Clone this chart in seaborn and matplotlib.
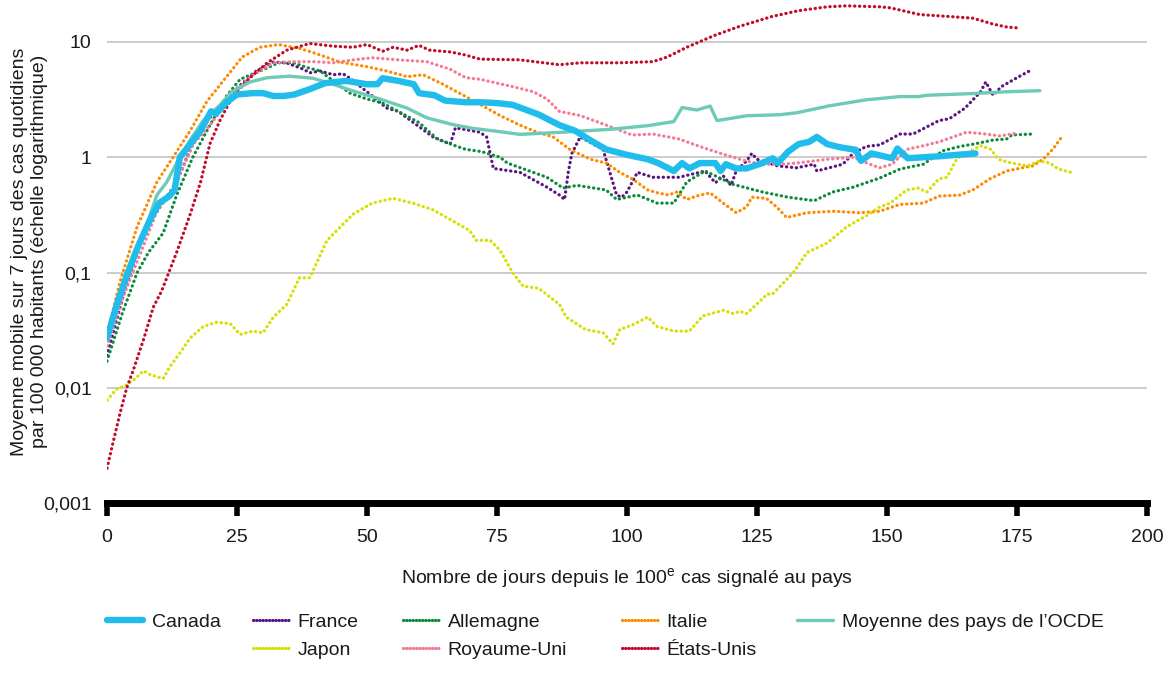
import numpy as np
import pandas as pd
import matplotlib
matplotlib.use("Agg")
import matplotlib.pyplot as plt
from matplotlib.lines import Line2D
from matplotlib.ticker import FixedLocator, NullLocator
import seaborn as sns

# ---------------- data ----------------
canada_x = [0, 2, 4, 6, 8, 9, 10, 12, 13, 14, 16, 18, 20, 21, 23, 25, 28, 30, 32, 34, 36, 39, 42, 46, 50, 52, 53, 56, 59, 60, 63, 65, 69, 72, 75, 78, 83, 87, 90, 93, 96, 100, 104, 106, 109, 110.6, 112, 114, 117, 118, 119, 121, 123, 126, 128, 129, 131, 133, 135, 136.5, 138.5, 141, 144, 145, 147, 151, 152, 154, 160, 167]
canada_y = [0.027, 0.055, 0.10, 0.17, 0.27, 0.33, 0.40, 0.46, 0.52, 1.0, 1.3, 1.7, 2.5, 2.4, 3.0, 3.5, 3.6, 3.6, 3.4, 3.4, 3.5, 3.9, 4.4, 4.6, 4.3, 4.3, 4.85, 4.6, 4.3, 3.6, 3.45, 3.1, 3.0, 3.0, 2.95, 2.85, 2.35, 1.9, 1.7, 1.4, 1.17, 1.05, 0.96, 0.89, 0.76, 0.89, 0.8, 0.89, 0.89, 0.76, 0.87, 0.8, 0.8, 0.89, 0.98, 0.89, 1.12, 1.3, 1.36, 1.5, 1.3, 1.22, 1.16, 0.93, 1.08, 0.98, 1.19, 0.98, 1.02, 1.08]

ocde_x = [0, 3, 6, 9.6, 11.5, 13.4, 16, 18.5, 21.7, 24, 27.5, 30.8, 35, 39.6, 43.5, 47, 52.5, 57.7, 61.5, 66.5, 70.4, 75, 79.4, 87.7, 97, 104, 109, 110.6, 113.4, 116, 117.3, 123, 129.4, 132.6, 139, 146, 152.5, 156, 157.7, 166.5, 173, 179.4]
ocde_y = [0.028, 0.07, 0.16, 0.47, 0.61, 0.89, 1.41, 2.08, 2.83, 3.7, 4.5, 4.9, 5.05, 4.85, 4.3, 3.8, 3.2, 2.67, 2.2, 1.92, 1.78, 1.68, 1.58, 1.65, 1.75, 1.88, 2.04, 2.7, 2.57, 2.78, 2.08, 2.29, 2.34, 2.43, 2.8, 3.15, 3.36, 3.36, 3.45, 3.57, 3.7, 3.78]

france_x = [0, 3, 7, 10, 13.4, 17, 21, 25.6, 28.7, 32, 34.5, 37.8, 39, 41, 43.5, 45.4, 47, 51, 53.8, 56, 59.6, 62.7, 66, 67, 71.7, 73, 74.3, 79.4, 84.6, 87, 88, 88.7, 89.4, 91, 95.4, 96.7, 98, 99, 100, 102, 105, 110, 115, 117, 118.5, 120, 121, 123, 124, 125, 129, 132.6, 136, 136.5, 141.5, 143.5, 146, 148.6, 152.5, 155, 160, 162, 165, 168, 169, 170.4, 172, 175, 178]
france_y = [0.019, 0.06, 0.22, 0.36, 0.61, 1.5, 2.6, 4.2, 5.6, 6.7, 6.6, 5.8, 5.4, 5.6, 5.2, 5.3, 4.75, 3.4, 2.67, 2.5, 1.9, 1.5, 1.3, 1.8, 1.65, 1.5, 0.8, 0.74, 0.55, 0.47, 0.43, 0.74, 1.08, 1.5, 1.17, 0.74, 0.47, 0.45, 0.5, 0.74, 0.67, 0.67, 0.76, 0.6, 0.69, 0.57, 0.76, 0.93, 1.08, 0.96, 0.84, 0.81, 0.87, 0.76, 0.87, 1.08, 1.24, 1.28, 1.59, 1.59, 2.08, 2.16, 2.67, 3.7, 4.5, 3.45, 4.1, 4.9, 5.8]

allemagne_x = [0, 3, 5.8, 8, 10.8, 13.4, 16.5, 19.8, 23, 25.6, 29.4, 33, 35.8, 38.5, 41, 43.5, 46.7, 50, 53, 56, 60, 63.5, 66.5, 69, 72, 75.6, 77, 84.6, 87.7, 90.4, 96, 98, 102, 105.8, 109, 111.5, 115, 120.5, 126, 131, 136, 139.6, 143.5, 148.6, 152.5, 157, 160.8, 164, 167, 170.4, 173, 174, 178]
allemagne_y = [0.017, 0.045, 0.10, 0.15, 0.22, 0.47, 1.0, 1.9, 3.4, 4.75, 5.6, 6.6, 6.6, 6.0, 5.6, 4.6, 3.6, 3.2, 2.95, 2.5, 2.0, 1.44, 1.28, 1.17, 1.12, 1.0, 0.89, 0.67, 0.54, 0.57, 0.52, 0.43, 0.47, 0.40, 0.40, 0.61, 0.76, 0.58, 0.50, 0.45, 0.42, 0.50, 0.55, 0.66, 0.79, 0.87, 1.14, 1.24, 1.31, 1.41, 1.44, 1.56, 1.59]

italie_x = [0, 1, 2.5, 5.8, 9.6, 12.7, 16, 19.2, 23, 26, 29.4, 33, 37, 40, 44.8, 50, 53.8, 57.7, 60.8, 64.6, 69, 72, 75.6, 79.4, 82.7, 85.8, 89, 93, 96, 98.6, 101, 104, 106, 108, 109.6, 111.5, 114, 116, 118.5, 121, 123, 124, 126.8, 128.8, 130.7, 134.6, 139.6, 144.8, 148.6, 152.5, 157, 160, 164, 166.5, 169.8, 173, 176, 178, 180, 182, 183.6]
italie_y = [0.03, 0.044, 0.083, 0.25, 0.61, 1.0, 1.7, 3.05, 5.0, 7.4, 9.0, 9.5, 8.8, 8.0, 6.7, 6.1, 5.6, 5.0, 5.2, 4.3, 3.36, 2.83, 2.3, 1.9, 1.65, 1.5, 1.17, 0.96, 0.89, 0.74, 0.65, 0.52, 0.49, 0.47, 0.50, 0.43, 0.47, 0.49, 0.40, 0.33, 0.37, 0.45, 0.44, 0.37, 0.30, 0.33, 0.34, 0.33, 0.34, 0.39, 0.40, 0.46, 0.47, 0.52, 0.65, 0.76, 0.81, 0.84, 0.96, 1.19, 1.5]

japon_x = [0, 1.8, 3.8, 5.4, 7, 8.3, 10.8, 12, 14, 16, 18.5, 21, 23.7, 25.6, 28, 30, 32, 34.6, 37, 39, 42.3, 47.3, 51, 55, 58.8, 62.7, 66.5, 69.8, 71, 73.7, 75.6, 78, 80, 83, 87, 88.3, 92, 95.4, 97.3, 98.6, 101, 104, 105.8, 109, 112, 114.6, 118.5, 120.4, 121.7, 123, 127, 128, 132, 134.6, 138.5, 142.3, 146, 148.6, 150.6, 153.8, 156, 157.7, 160, 161.5, 163.5, 165.3, 168, 170, 171.4, 174, 177, 179.4, 181.3, 183, 185.8]
japon_y = [0.0078, 0.0097, 0.0106, 0.012, 0.014, 0.013, 0.012, 0.015, 0.020, 0.027, 0.034, 0.037, 0.036, 0.029, 0.031, 0.030, 0.041, 0.053, 0.09, 0.09, 0.19, 0.32, 0.40, 0.44, 0.40, 0.35, 0.28, 0.23, 0.19, 0.19, 0.155, 0.10, 0.076, 0.073, 0.053, 0.041, 0.032, 0.030, 0.024, 0.032, 0.035, 0.041, 0.034, 0.031, 0.031, 0.042, 0.047, 0.044, 0.046, 0.044, 0.065, 0.065, 0.10, 0.149, 0.18, 0.25, 0.31, 0.37, 0.40, 0.52, 0.54, 0.50, 0.65, 0.67, 0.98, 1.08, 1.26, 1.17, 0.96, 0.89, 0.84, 0.93, 0.89, 0.79, 0.73]

ru_x = [0, 3, 7, 9.6, 13.4, 16.6, 19.8, 24, 27.5, 32, 35.8, 40, 43.5, 47.3, 51, 56, 61.5, 66, 69, 71.7, 78, 82, 84.6, 87, 91, 96, 101, 105, 110, 114, 118, 121.7, 125.6, 129.4, 132.6, 138.5, 143.5, 146.7, 148.6, 151, 153.8, 157.7, 160, 162.7, 165.3, 169, 171.7, 175]
ru_y = [0.023, 0.06, 0.17, 0.34, 0.61, 1.3, 1.9, 3.4, 5.0, 6.6, 6.75, 6.75, 6.6, 7.0, 7.3, 7.0, 6.75, 5.8, 4.9, 4.75, 4.1, 3.7, 3.2, 2.5, 2.3, 1.9, 1.56, 1.59, 1.44, 1.24, 1.08, 0.96, 0.87, 0.87, 0.89, 0.96, 1.0, 0.87, 0.81, 0.87, 1.17, 1.28, 1.36, 1.5, 1.65, 1.59, 1.53, 1.62]

eu_x = [0, 1.2, 2.5, 3.8, 5, 7, 8.9, 10.5, 13.4, 16, 18, 19.8, 21.7, 24.2, 27.5, 30.8, 34.6, 39, 43.5, 47.3, 50, 53, 55, 57.7, 60, 62, 66, 69, 71.7, 79.4, 87, 91, 98.6, 105, 107.7, 111.5, 116.6, 121.7, 128, 133, 138.5, 142.3, 148.6, 150.6, 156.3, 161.5, 166.5, 170.4, 173, 175.6]
eu_y = [0.002, 0.0034, 0.006, 0.010, 0.014, 0.026, 0.05, 0.069, 0.15, 0.32, 0.61, 1.31, 2.08, 3.4, 4.9, 6.6, 8.5, 9.7, 9.2, 9.0, 9.5, 8.3, 9.0, 8.5, 9.35, 8.5, 8.2, 7.7, 7.1, 7.0, 6.35, 6.6, 6.6, 6.75, 7.4, 9.0, 11.3, 13.7, 16.7, 18.7, 20.2, 20.6, 20.2, 19.8, 17.3, 16.7, 16.1, 14.3, 13.5, 13.2]

y_ticks = [0.001, 0.01, 0.1, 1, 10]
y_tick_labels = ["0,001", "0,01", "0,1", "1", "10"]
x_ticks = [0, 25, 50, 75, 100, 125, 150, 175, 200]

# ---------------- style ----------------
FONT = ["Liberation Sans", "DejaVu Sans"]
sns.set_style("white")
plt.rcParams["font.family"] = FONT
plt.rcParams["font.size"] = 14
TXT = "#1a1a1a"
FS = 14

series = [
    ("France", france_x, france_y, "#5a1480", "dot"),
    ("Allemagne", allemagne_x, allemagne_y, "#0b8a3a", "dot"),
    ("Italie", italie_x, italie_y, "#ff8a00", "dot"),
    ("Japon", japon_x, japon_y, "#d6e000", "dot"),
    ("Royaume-Uni", ru_x, ru_y, "#f47a93", "dot"),
    ("États-Unis", eu_x, eu_y, "#c10a25", "dot"),
    ("Moyenne des pays de l’OCDE", ocde_x, ocde_y, "#6ccab6", "solid"),
    ("Canada", canada_x, canada_y, "#1fbcec", "thick"),
]

fig = plt.figure(figsize=(11.70, 6.83), dpi=100)
ax = fig.add_axes([107 / 1170, 1 - 503 / 683, 1040 / 1170, 503 / 683])

DOT = (0, (0.1, 1.45))
styles = {}
for label, xs, ys, color, kind in series:
    df = pd.DataFrame({"jour": xs, "valeur": ys})
    if kind == "dot":
        kw = dict(lw=2.3, linestyle=DOT, dash_capstyle="round")
    elif kind == "solid":
        kw = dict(lw=2.4, linestyle="-", solid_capstyle="round")
    else:
        kw = dict(lw=4.6, linestyle="-", solid_capstyle="round", solid_joinstyle="round")
    styles[label] = (color, kw)
    sns.lineplot(data=df, x="jour", y="valeur", ax=ax, color=color,
                 estimator=None, legend=False, **kw)

ax.set_yscale("log")
ax.set_xlim(0, 200)
ax.set_ylim(0.001, 10 ** (1 + 42 / 115.25))
ax.yaxis.set_major_locator(FixedLocator(y_ticks))
ax.yaxis.set_minor_locator(NullLocator())
ax.set_yticklabels(y_tick_labels)
ax.set_xticks(x_ticks)
ax.set_xticklabels([str(t) for t in x_ticks])

ax.grid(False)
for t in [0.01, 0.1, 1, 10]:
    ax.axhline(t, color="#c8c8c8", lw=1.3, zorder=0)

for s in ["left", "right", "top"]:
    ax.spines[s].set_visible(False)
ax.spines["bottom"].set_linewidth(5)
ax.spines["bottom"].set_color("black")
ax.spines["bottom"].set_capstyle("projecting")
ax.tick_params(axis="x", which="major", bottom=True, direction="out", length=9,
               width=4, color="black", labelsize=FS, labelcolor=TXT, pad=10)
ax.tick_params(axis="y", left=False, length=0, labelsize=FS, labelcolor=TXT, pad=11)

ax.set_xlabel("Nombre de jours depuis le 100$^{\\mathregular{e}}$ cas signalé au pays",
              fontsize=FS, color=TXT, labelpad=14)
ax.set_ylabel("Moyenne mobile sur 7 jours des cas quotidiens\npar 100 000 habitants (échelle logarithmique)",
              fontsize=FS, color=TXT, linespacing=1.2)
ax.yaxis.set_label_coords((48 - 107) / 1040, 0.5)

# ---------------- legend (one legend per column) ----------------
def handle(label):
    color, kw = styles[label]
    kw = dict(kw)
    if label not in ("Canada", "Moyenne des pays de l’OCDE"):
        kw["linestyle"] = (0, (0.1, 0.9))
    return Line2D([], [], color=color, **kw)

columns = [
    (107, ["Canada"]),
    (253, ["France", "Japon"]),
    (403, ["Allemagne", "Royaume-Uni"]),
    (622, ["Italie", "États-Unis"]),
    (797, ["Moyenne des pays de l’OCDE"]),
]
for x0, labs in columns:
    fig.legend([handle(l) for l in labs], labs, loc="upper left",
               bbox_to_anchor=(x0 / 1170, 1 - 613 / 683), frameon=False,
               fontsize=FS, handlelength=1.85, handletextpad=0.45,
               labelspacing=0.55, borderpad=0, borderaxespad=0,
               labelcolor=TXT)

fig.savefig("out.png", dpi=100)
